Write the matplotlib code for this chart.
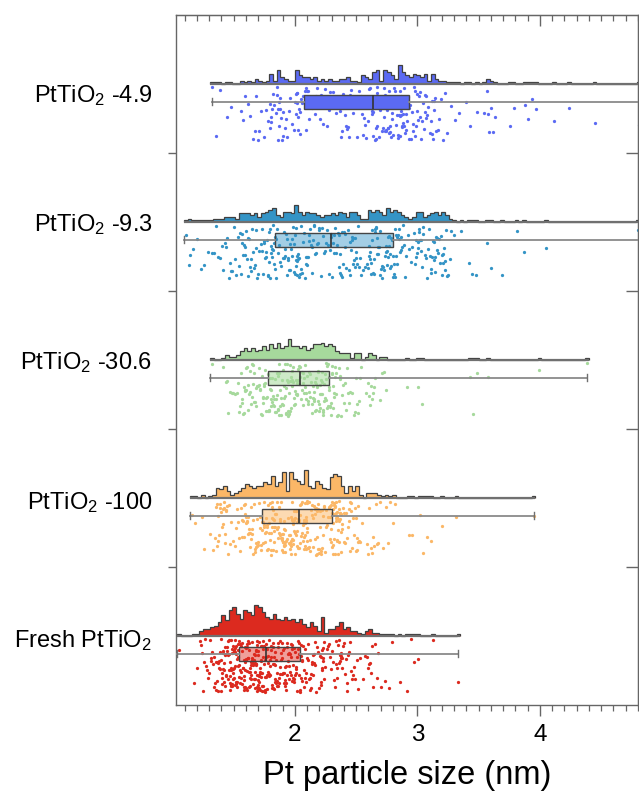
import numpy as np
import matplotlib
matplotlib.use('Agg')
import matplotlib.pyplot as plt
from matplotlib.ticker import MultipleLocator, FixedLocator
from matplotlib.colors import to_rgba

plt.rcParams['font.family'] = ['Liberation Sans', 'DejaVu Sans']
plt.rcParams['mathtext.fontset'] = 'custom'
plt.rcParams['mathtext.rm'] = 'Liberation Sans'
plt.rcParams['mathtext.it'] = 'Liberation Sans:italic'
plt.rcParams['mathtext.default'] = 'regular'

# ---------------- data ----------------
labels = ['PtTiO$_2$ -4.9', 'PtTiO$_2$ -9.3', 'PtTiO$_2$ -30.6',
          'PtTiO$_2$ -100', 'Fresh PtTiO$_2$']
bin_width = 0.03
starts = [1.31, 1.094, 1.31, 1.143, 1.039]

counts_49 = [1, 1, 1, 0, 1, 1, 0, 0, 2, 1,
             2, 1, 3, 2, 1, 2, 6, 2, 8, 4,
             3, 2, 2, 8, 5, 4, 4, 3, 4, 2,
             3, 2, 3, 2, 2, 3, 3, 4, 2, 2,
             1, 5, 4, 3, 7, 8, 2, 8, 7, 5,
             3, 11, 7, 5, 4, 6, 5, 4, 6, 2,
             6, 3, 2, 2, 1, 1, 1, 1, 0, 1,
             1, 0, 1, 0, 1, 3, 2, 1, 0, 0,
             0, 1, 1, 0, 0, 1, 1, 1, 1, 0,
             0, 0, 0, 1, 0, 0, 0, 1, 0, 0,
             0, 0, 0, 0, 1, 0, 0, 0, 0, 0,
             0, 0, 0, 0, 0, 0, 1]
counts_93 = [1, 2, 1, 1, 1, 1, 1, 1, 2, 2,
             2, 3, 3, 3, 2, 5, 5, 5, 4, 5,
             3, 5, 6, 7, 8, 4, 3, 6, 6, 5,
             10, 6, 4, 6, 5, 5, 4, 3, 4, 4,
             5, 4, 6, 5, 3, 6, 6, 4, 2, 2,
             7, 6, 7, 6, 4, 8, 6, 7, 6, 4,
             3, 2, 3, 6, 6, 3, 4, 5, 6, 4,
             6, 4, 2, 1, 0, 1, 0, 1, 1, 1,
             0, 0, 1, 1, 0, 0, 1, 0, 0, 0,
             1, 0, 1, 0, 0, 0, 0, 0, 1, 0,
             0, 0, 0, 0, 0, 0, 0, 0, 0, 0,
             0, 0, 0, 0, 0, 0, 0, 0, 0, 0,
             0, 0, 0, 1]
counts_306 = [1, 0, 0, 1, 3, 2, 2, 3, 5, 7,
              5, 7, 5, 6, 8, 6, 9, 7, 10, 7,
              8, 12, 8, 8, 7, 8, 6, 7, 9, 9,
              10, 8, 9, 8, 5, 4, 4, 4, 1, 4,
              4, 0, 2, 4, 3, 0, 2, 2, 0, 0,
              0, 0, 0, 1, 0, 0, 1, 1, 0, 0,
              0, 0, 0, 0, 0, 0, 0, 0, 0, 0,
              1, 1, 1, 0, 0, 1, 0, 0, 0, 0,
              0, 0, 0, 0, 0, 0, 0, 0, 0, 1,
              0, 0, 0, 0, 0, 0, 0, 0, 0, 0,
              0, 0, 1]
counts_100 = [1, 1, 0, 2, 0, 1, 2, 6, 5, 7,
              4, 2, 3, 4, 6, 8, 7, 6, 7, 7,
              9, 8, 13, 7, 9, 15, 4, 15, 11, 10,
              8, 16, 7, 6, 10, 8, 6, 5, 12, 14,
              13, 7, 3, 7, 4, 7, 2, 0, 3, 3,
              3, 2, 1, 2, 1, 2, 0, 0, 0, 1,
              1, 0, 1, 1, 1, 1, 0, 0, 1, 0,
              0, 0, 1, 0, 0, 0, 0, 0, 0, 0,
              0, 0, 0, 0, 0, 0, 0, 0, 0, 0,
              0, 0, 0, 1]
counts_fresh = [1, 0, 0, 0, 1, 1, 3, 4, 4, 5,
                6, 8, 12, 9, 15, 17, 13, 10, 15, 14,
                12, 18, 17, 14, 11, 10, 13, 10, 9, 11,
                9, 10, 8, 10, 7, 5, 8, 6, 3, 11,
                2, 4, 4, 6, 8, 4, 5, 3, 3, 2,
                1, 3, 4, 2, 2, 1, 1, 1, 1, 0,
                1, 0, 1, 1, 1, 1, 0, 0, 0, 1,
                0, 0, 0, 0, 0, 0, 1]
all_counts = [counts_49, counts_93, counts_306, counts_100, counts_fresh]

# box statistics (min, Q1, median, Q3, max) in nm
box_min = [1.32, 1.094, 1.31, 1.143, 1.039]
box_q1 = [2.076, 1.834, 1.777, 1.731, 1.543]
box_med = [2.639, 2.291, 2.041, 2.033, 1.763]
box_q3 = [2.933, 2.803, 2.280, 2.305, 2.041]
box_max = [4.82, 4.82, 4.38, 3.95, 3.33]

# ---------------- style ----------------
colors = ['#5b6af3', '#3494c6', '#a6d99c', '#fbb767', '#dc2a1f']
box_faces = [to_rgba('#5b6af3', 1.0), to_rgba('#3494c6', 0.45),
             to_rgba('#a6d99c', 0.55), to_rgba('#fbb767', 0.5),
             to_rgba('#dc2a1f', 0.45)]
label_pos = [0.56, 0.5, 0.5, 0.51, 0.51]

fig = plt.figure(figsize=(6.39, 7.98), dpi=100)
ax = fig.add_axes([176 / 639, 1 - 705 / 798, (638 - 176) / 639, (705 - 15) / 798])

count_h = 0.0125
for i, counts in enumerate(all_counts):
    c = np.asarray(counts)
    edges = starts[i] + bin_width * np.arange(len(c) + 1)
    base = i + 0.5
    col = colors[i]
    ax.stairs(base - c * count_h, edges, baseline=base, fill=True,
              facecolor=col, edgecolor='#404040', linewidth=0.9, zorder=3)
    ax.hlines(base, edges[0], edges[-1], color='#707070', lw=1.6, zorder=4)

    # individual particle sizes spread within their bins
    xs = np.concatenate([edges[b] + (np.arange(n) + 0.5) / n * bin_width
                         for b, n in enumerate(c) if n > 0])
    idx = np.arange(len(xs))
    frac = (np.sin(idx * 12.9898 + i * 78.233) * 43758.5453) % 1.0
    ys = i + 0.52 + 0.39 * frac
    ax.scatter(xs, ys, s=5.5, color=col, linewidths=0, zorder=2)

    stats = [dict(whislo=box_min[i], q1=box_q1[i], med=box_med[i],
                  q3=box_q3[i], whishi=box_max[i], fliers=[])]
    ax.bxp(stats, positions=[i + 0.63], widths=0.1, orientation='horizontal',
           patch_artist=True, capwidths=0.05, showfliers=False,
           manage_ticks=False, zorder=3,
           boxprops=dict(facecolor=box_faces[i], edgecolor='#454545', linewidth=1.0),
           whiskerprops=dict(color='#8a8a8a', linewidth=1.3),
           capprops=dict(color='#707070', linewidth=1.0),
           medianprops=dict(color='#333333', linewidth=1.2))

ax.set_xlim(1.029, 4.80)
ax.set_ylim(5, 0)

spine_col = '#666666'
for s in ax.spines.values():
    s.set_color(spine_col)
    s.set_linewidth(1.0)

ax.set_xticks([2, 3, 4])
ax.xaxis.set_minor_locator(MultipleLocator(0.1))
ax.tick_params(axis='x', which='major', direction='out', length=8, width=1,
               color=spine_col, labelsize=17.5, pad=6)
ax.tick_params(axis='x', which='minor', direction='out', length=4, width=0.9,
               color=spine_col)

ax.set_yticks([i + p for i, p in enumerate(label_pos)])
ax.set_yticklabels(labels)
ax.yaxis.set_minor_locator(FixedLocator([1, 2, 3, 4]))
ax.tick_params(axis='y', which='major', length=0, labelsize=17, pad=17)
ax.tick_params(axis='y', which='minor', direction='out', length=6, width=1,
               color=spine_col)

top = ax.secondary_xaxis('top')
top.set_xticks([2, 3, 4])
top.xaxis.set_minor_locator(MultipleLocator(0.1))
top.tick_params(which='major', direction='in', length=8, width=1, color=spine_col,
                labeltop=False)
top.tick_params(which='minor', direction='in', length=4, width=0.9, color=spine_col)
top.spines['top'].set_color(spine_col)

right = ax.secondary_yaxis('right')
right.set_yticks([1, 2, 3, 4])
right.tick_params(direction='in', length=9, width=1, color=spine_col,
                  labelright=False)
right.spines['right'].set_color(spine_col)

ax.set_xlabel('Pt particle size (nm)', fontsize=23.5, labelpad=10)

fig.savefig('out.png', dpi=100)
